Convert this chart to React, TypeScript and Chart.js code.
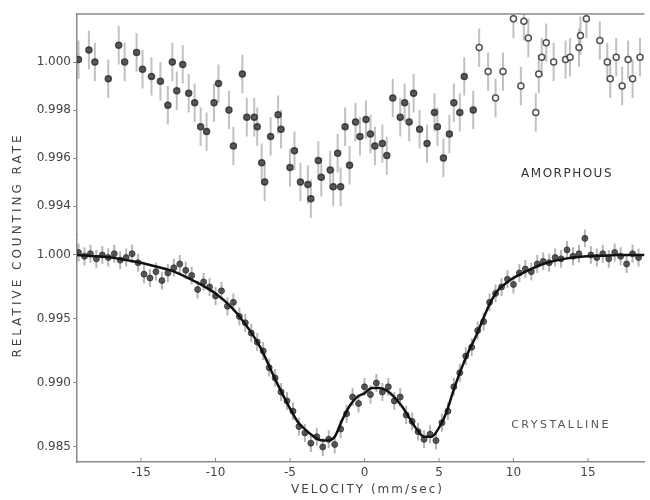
import React, { useEffect, useRef } from 'react';
import { Chart, registerables } from 'chart.js';

Chart.register(...registerables);

// ---- data ----
const velocityTicks = [-15, -10, -5, 0, 5, 10, 15];
const amorTicks = [0.994, 0.996, 0.998, 1.0];
const crysTicks = [0.985, 0.99, 0.995, 1.0];

const amorV = [
  -19.2, -18.5, -18.1, -17.2, -16.5, -16.1, -15.3, -14.9, -14.3, -13.7, -13.2, -12.9, -12.6, -12.2,
  -11.8, -11.4, -11.0, -10.6, -10.1, -9.8, -9.1, -8.8, -8.2, -7.9, -7.4, -7.2, -6.9, -6.7, -6.3,
  -5.8, -5.6, -5.0, -4.7, -4.3, -3.8, -3.6, -3.1, -2.9, -2.3, -2.1, -1.8, -1.6, -1.3, -1.0, -0.6,
  -0.3, 0.1, 0.4, 0.7, 1.2, 1.5, 1.9, 2.4, 2.7, 3.0, 3.3, 3.7, 4.2, 4.7, 4.9, 5.3, 5.7, 6.0, 6.4,
  6.7, 7.3, 7.7, 8.3, 8.8, 9.3, 10.0, 10.5, 10.7, 11.0, 11.5, 11.7, 11.9, 12.2, 12.7, 13.5, 13.8,
  14.4, 14.5, 14.9, 15.8, 16.3, 16.5, 16.9, 17.3, 17.7, 18.0, 18.5,
];
const amorRate = [
  1.0001, 1.0005, 1.0, 0.9993, 1.0007, 1.0, 1.0004, 0.9997, 0.9994, 0.9992, 0.9982, 1.0, 0.9988, 0.9999,
  0.9987, 0.9983, 0.9973, 0.9971, 0.9983, 0.9991, 0.998, 0.9965, 0.9995, 0.9977, 0.9977, 0.9973, 0.9958, 0.995, 0.9969,
  0.9978, 0.9972, 0.9956, 0.9963, 0.995, 0.9949, 0.9943, 0.9959, 0.9952, 0.9955, 0.9948, 0.9962, 0.9948, 0.9973, 0.9957, 0.9975,
  0.9969, 0.9976, 0.997, 0.9965, 0.9966, 0.9961, 0.9985, 0.9977, 0.9983, 0.9975, 0.9987, 0.9972, 0.9966, 0.9979, 0.9973, 0.996, 0.997, 0.9983, 0.9979,
  0.9994, 0.998, 1.0006, 0.9996, 0.9985, 0.9996, 1.0018, 0.999, 1.0017, 1.001, 0.9979, 0.9995, 1.0002, 1.0008, 1.0, 1.0001, 1.0002,
  1.0006, 1.0011, 1.0018, 1.0009, 1.0, 0.9993, 1.0002, 0.999, 1.0001, 0.9993, 1.0002,
];
const amorErr = 0.0008;

const crysV = [
  -19.2, -18.8, -18.4, -18.0, -17.6, -17.2, -16.8, -16.4, -16.0, -15.6, -15.2, -14.8, -14.4, -14.0,
  -13.6, -13.2, -12.8, -12.4, -12.0, -11.6, -11.2, -10.8, -10.4, -10.0, -9.6, -9.2, -8.8, -8.4, -8.0,
  -7.6, -7.2, -6.8, -6.4, -6.0, -5.6, -5.2, -4.8, -4.4, -4.0, -3.6, -3.2, -2.8, -2.4, -2.0, -1.6,
  -1.2, -0.8, -0.4, 0.0, 0.4, 0.8, 1.2, 1.6, 2.0, 2.4, 2.8, 3.2, 3.6, 4.0, 4.4, 4.8, 5.2, 5.6, 6.0,
  6.4, 6.8, 7.2, 7.6, 8.0, 8.4, 8.8, 9.2, 9.6, 10.0, 10.4, 10.8, 11.2, 11.6, 12.0, 12.4, 12.8, 13.2,
  13.6, 14.0, 14.4, 14.8, 15.2, 15.6, 16.0, 16.4, 16.8, 17.2, 17.6, 18.0, 18.4,
];
const crysRate = [
  1.0002, 0.9999, 1.0001, 0.9997, 1.0, 0.9998, 1.0001, 0.9996, 0.9998, 1.0001, 0.9994, 0.9985, 0.9982, 0.9987,
  0.998, 0.9986, 0.999, 0.9993, 0.9988, 0.9984, 0.9973, 0.9979, 0.9975, 0.9968, 0.9972, 0.996, 0.9963, 0.9952, 0.9947,
  0.9939, 0.9932, 0.9925, 0.9912, 0.9904, 0.9893, 0.9886, 0.9878, 0.9866, 0.9861, 0.9853, 0.9858, 0.985, 0.9856, 0.9852, 0.9864,
  0.9876, 0.9889, 0.9884, 0.9897, 0.9891, 0.99, 0.9893, 0.9897, 0.9886, 0.9889, 0.9875, 0.987, 0.9862, 0.9856, 0.986, 0.9855, 0.9869, 0.9878, 0.9897,
  0.9908, 0.9921, 0.9928, 0.9941, 0.9948, 0.9963, 0.997, 0.9975, 0.9981, 0.9977, 0.9986, 0.9989, 0.9987, 0.9993, 0.9995, 0.9994, 0.9998, 0.9997,
  1.0004, 0.9999, 1.0001, 1.0013, 1.0, 0.9998, 1.0001, 0.9997, 1.0002, 0.9999, 0.9993, 1.0001, 0.9998,
];
const crysErr = 0.0007;

const fitV = [
  -19.3, -18, -17, -16, -15, -14, -13, -12, -11, -10, -9, -8, -7, -6, -5, -4.5, -4, -3.5, -3, -2.5,
  -2, -1.5, -1, -0.5, 0, 0.5, 1, 1.5, 2, 2.5, 3, 3.5, 4, 4.5, 5, 5.5, 6, 6.5, 7, 7.5, 8, 8.5, 9,
  9.5, 10, 11, 12, 13, 14, 15, 16, 17, 18.8,
];
const fitRate = [
  1.0, 0.9999, 0.9998, 0.9996, 0.9994, 0.9991, 0.9988, 0.9983, 0.9977, 0.997, 0.996, 0.9946, 0.9928, 0.9903, 0.988, 0.987, 0.9864, 0.9859, 0.98555, 0.9855,
  0.9858, 0.9871, 0.9882, 0.9889, 0.9892, 0.9896, 0.9896, 0.9894, 0.9889, 0.9882, 0.9873, 0.9864, 0.9858, 0.9858, 0.9865, 0.9877, 0.9895, 0.9911, 0.9925, 0.9937, 0.9951, 0.9964, 0.9973,
  0.9978, 0.9982, 0.9988, 0.9993, 0.9996, 0.9998, 0.9999, 0.99995, 1.0, 1.0,
];

const FONT = '"DejaVu Sans", "Liberation Sans", sans-serif';

const decorPlugin = {
  id: 'decor',
  beforeDatasetsDraw(chart: any) {
    const ctx = chart.ctx;
    const a = chart.chartArea;
    ctx.save();
    ctx.beginPath();
    ctx.rect(a.left, a.top, a.right - a.left, a.bottom - a.top);
    ctx.clip();
    chart.data.datasets.forEach((ds: any, i: number) => {
      if (!ds.errorBar) return;
      const meta = chart.getDatasetMeta(i);
      const ys = chart.scales[ds.yAxisID];
      ctx.strokeStyle = ds.errorColor;
      ctx.lineWidth = 2;
      meta.data.forEach((pt: any, j: number) => {
        const v = ds.data[j].y;
        ctx.beginPath();
        ctx.moveTo(pt.x, ys.getPixelForValue(v + ds.errorBar));
        ctx.lineTo(pt.x, ys.getPixelForValue(v - ds.errorBar));
        ctx.stroke();
      });
    });
    ctx.restore();
  },
  afterDraw(chart: any) {
    const ctx = chart.ctx;
    const a = chart.chartArea;
    const xs = chart.scales.x;
    const yA = chart.scales.yA;
    const yC = chart.scales.yC;
    ctx.save();
    // top frame line
    ctx.strokeStyle = '#8a8a8a';
    ctx.lineWidth = 1.5;
    ctx.beginPath();
    ctx.moveTo(a.left, a.top);
    ctx.lineTo(a.right, a.top);
    ctx.stroke();
    // inward x tick marks
    ctx.lineWidth = 1;
    xs.ticks.forEach((t: any) => {
      const px = xs.getPixelForValue(t.value);
      ctx.beginPath();
      ctx.moveTo(px, a.bottom);
      ctx.lineTo(px, a.bottom - 4);
      ctx.stroke();
    });

    ctx.textAlign = 'center';
    ctx.textBaseline = 'middle';
    // panel labels
    ctx.fillStyle = '#333';
    ctx.font = `12px ${FONT}`;
    (ctx as any).letterSpacing = '1.5px';
    ctx.fillText('AMORPHOUS', xs.getPixelForValue(13.6), yA.getPixelForValue(0.99533));
    ctx.fillStyle = '#555';
    ctx.font = `11px ${FONT}`;
    (ctx as any).letterSpacing = '2.5px';
    ctx.fillText('CRYSTALLINE', xs.getPixelForValue(13.2), yC.getPixelForValue(0.98672));

    // axis titles
    ctx.fillStyle = '#444';
    ctx.font = `12px ${FONT}`;
    (ctx as any).letterSpacing = '2px';
    ctx.fillText('VELOCITY (mm/sec)', xs.getPixelForValue(0.2), 490);
    ctx.save();
    ctx.translate(18, 245);
    ctx.rotate(-Math.PI / 2);
    (ctx as any).letterSpacing = '3px';
    ctx.fillText('RELATIVE COUNTING RATE', 0, 0);
    ctx.restore();
    ctx.restore();
  },
};

export default function App() {
  const ref = useRef<HTMLCanvasElement | null>(null);

  useEffect(() => {
    if (!ref.current) return;
    const tickFont = { family: FONT, size: 12 };
    const chart = new Chart(ref.current, {
      type: 'scatter',
      data: {
        datasets: [
          {
            label: 'Crystalline fit',
            type: 'line',
            data: fitV.map((v, i) => ({ x: v, y: fitRate[i] })),
            yAxisID: 'yC',
            borderColor: '#111',
            borderWidth: 2.5,
            pointRadius: 0,
            cubicInterpolationMode: 'monotone',
            fill: false,
            order: 0,
          } as any,
          {
            label: 'Crystalline',
            data: crysV.map((v, i) => ({ x: v, y: crysRate[i] })),
            yAxisID: 'yC',
            pointRadius: 3,
            pointBackgroundColor: 'rgba(40,40,40,0.75)',
            pointBorderColor: 'rgba(40,40,40,0.75)',
            errorBar: crysErr,
            errorColor: 'rgba(90,90,90,0.45)',
            order: 1,
          } as any,
          {
            label: 'Amorphous',
            data: amorV.map((v, i) => ({ x: v, y: amorRate[i] })),
            yAxisID: 'yA',
            pointRadius: 3,
            pointBorderWidth: 1.5,
            pointBackgroundColor: (c: any) =>
              amorV[c.dataIndex] > 7.5 ? 'rgba(255,255,255,0.9)' : 'rgba(45,45,45,0.75)',
            pointBorderColor: 'rgba(40,40,40,0.8)',
            errorBar: amorErr,
            errorColor: 'rgba(100,100,100,0.4)',
            order: 1,
          } as any,
        ],
      },
      options: {
        animation: false,
        responsive: false,
        layout: { padding: { top: 14, left: 0, right: 0, bottom: 0 } },
        plugins: { legend: { display: false }, tooltip: { enabled: false } },
        scales: {
          x: {
            type: 'linear',
            min: -19.3,
            max: 18.8,
            afterBuildTicks: (s: any) => {
              s.ticks = velocityTicks.map((v) => ({ value: v }));
            },
            afterFit: (s: any) => {
              s.height = 38;
            },
            ticks: { font: tickFont, color: '#444', padding: 4, maxRotation: 0, autoSkip: false },
            grid: { display: false, drawTicks: false },
            border: { color: '#8a8a8a', width: 1.5 },
          },
          yC: {
            type: 'linear',
            position: 'left',
            stack: 'panels',
            stackWeight: 227,
            min: 0.983828,
            max: 1.0015625,
            afterBuildTicks: (s: any) => {
              s.ticks = crysTicks.map((v) => ({ value: v }));
            },
            afterFit: (s: any) => {
              s.width = 77;
            },
            ticks: { font: tickFont, color: '#444', padding: 2, callback: (v: any) => Number(v).toFixed(3) },
            grid: { drawOnChartArea: false, tickLength: 4, color: '#888' },
            border: { color: '#8a8a8a', width: 1.5 },
          },
          yA: {
            type: 'linear',
            position: 'left',
            stack: 'panels',
            stackWeight: 221,
            min: 0.992792,
            max: 1.002,
            afterBuildTicks: (s: any) => {
              s.ticks = amorTicks.map((v) => ({ value: v }));
            },
            afterFit: (s: any) => {
              s.width = 77;
            },
            ticks: { font: tickFont, color: '#444', padding: 2, callback: (v: any) => Number(v).toFixed(3) },
            grid: { drawOnChartArea: false, tickLength: 4, color: '#888' },
            border: { color: '#8a8a8a', width: 1.5 },
          },
        },
      } as any,
      plugins: [decorPlugin],
    });
    return () => chart.destroy();
  }, []);

  return (
    <div style={{ position: 'absolute', left: 0, top: 0, width: 650, height: 500, background: '#fff' }}>
      <canvas ref={ref} width={650} height={500} />
    </div>
  );
}
